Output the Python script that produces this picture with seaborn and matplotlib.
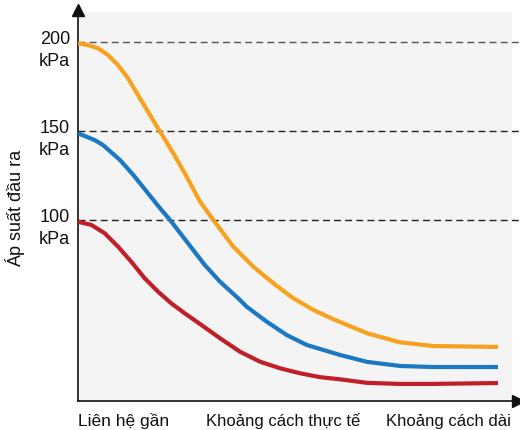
import matplotlib
matplotlib.use("Agg")
import matplotlib.pyplot as plt
import numpy as np
import pandas as pd
import seaborn as sns

# ---- data ----
series_names = ["200 kPa", "150 kPa", "100 kPa"]
orange_x = [0, 10, 20, 30, 40, 50, 60, 70, 80, 95.3, 108.7, 122, 135.3, 155.3, 175.3, 195.3,
            215.3, 235.3, 255.3, 289, 322, 355, 420]
orange_y = [200, 199.0, 197.2, 193.4, 187.8, 180.3, 170.9, 161.6, 152.2, 138.2, 125.0, 111.0,
            100.7, 85.7, 74.4, 65.1, 56.7, 50.1, 44.9, 37.0, 31.9, 29.8, 29.3]
blue_x = [0, 16.7, 25, 42, 55.3, 68.7, 82, 92, 110, 126.7, 142, 162, 168.7, 188.7, 208.7,
          228.7, 262, 289, 322, 355, 420]
blue_y = [149.4, 145.6, 142.8, 134.4, 126.0, 116.6, 107.3, 100.7, 87.6, 75.4, 66.0, 55.7,
          51.9, 43.5, 36.0, 30.4, 24.8, 20.9, 18.6, 18.0, 18.0]
red_x = [0, 13.3, 26.7, 40, 53.3, 66.7, 80, 93.3, 106.7, 122, 142, 162, 182, 202,
         222, 242, 262, 289, 322, 355, 420]
red_y = [99.7, 97.9, 93.2, 85.7, 77.2, 67.9, 60.4, 53.8, 48.2, 42.2, 34.2, 26.6, 21.0,
         17.3, 14.5, 12.3, 11.1, 9.1, 8.5, 8.5, 9.0]
ref_levels = [200, 150, 100]
ref_labels = ["200", "150", "100"]
x_labels = ["Liên hệ gần", "Khoảng cách thực tế", "Khoảng cách dài"]
y_title = "Áp suất đầu ra"
colors = ["#F7A11E", "#1B78C2", "#C01F2A"]

df = pd.concat([
    pd.DataFrame({"x": orange_x, "y": orange_y, "s": series_names[0]}),
    pd.DataFrame({"x": blue_x, "y": blue_y, "s": series_names[1]}),
    pd.DataFrame({"x": red_x, "y": red_y, "s": series_names[2]}),
])

sns.set_style("white")
plt.rcParams["font.family"] = ["Liberation Sans", "DejaVu Sans"]

fig = plt.figure(figsize=(5.2, 4.3), dpi=100)
ax = fig.add_axes([78 / 520, 29 / 430, 434 / 520, 389 / 430])
ax.set_facecolor("#F4F4F4")

dash_colors = ["#555555", "#222222", "#222222"]
for lvl, dc in zip(ref_levels, dash_colors):
    ax.plot([0, 442], [lvl + 0.8, lvl + 0.8], color=dc, lw=1.0, ls=(0, (5, 3)),
            clip_on=False, zorder=1)

sns.lineplot(data=df, x="x", y="y", hue="s", palette=colors, sort=False,
             linewidth=3.0, legend=False, ax=ax, zorder=3,
             solid_joinstyle="round", solid_capstyle="butt")

ax.set_xlim(0, 434)
ax.set_ylim(-1.1, 217.6)
ax.set_xticks([])
ax.set_yticks([])
ax.set_xlabel("")
ax.set_ylabel("")
for s in ["top", "right"]:
    ax.spines[s].set_visible(False)
for s in ["left", "bottom"]:
    ax.spines[s].set_color("#111111")
    ax.spines[s].set_linewidth(1.2)

# axis arrows
ax.plot([0], [218.8], marker="^", color="#111111", markersize=8, clip_on=False, zorder=5)
ax.plot([440], [-1.1], marker=">", color="#111111", markersize=8, clip_on=False, zorder=5)

for lvl, lab in zip(ref_levels, ref_labels):
    ax.text(-8, lvl + 2, lab, ha="right", va="center", fontsize=13, color="#111111")
    ax.text(-8, lvl - 10.5, "kPa", ha="right", va="center", fontsize=13, color="#111111")

ax.text(0, -12.5, x_labels[0], ha="left", va="center", fontsize=12.5, color="#111111", clip_on=False)
ax.text(205, -12.5, x_labels[1], ha="center", va="center", fontsize=12, color="#111111", clip_on=False)
ax.text(433, -12.5, x_labels[2], ha="right", va="center", fontsize=12, color="#111111", clip_on=False)

fig.text(15 / 520, 1 - 208 / 430, y_title, rotation=90, ha="center", va="center",
         fontsize=13, color="#111111")

fig.savefig("out.png", dpi=100, facecolor="white")
